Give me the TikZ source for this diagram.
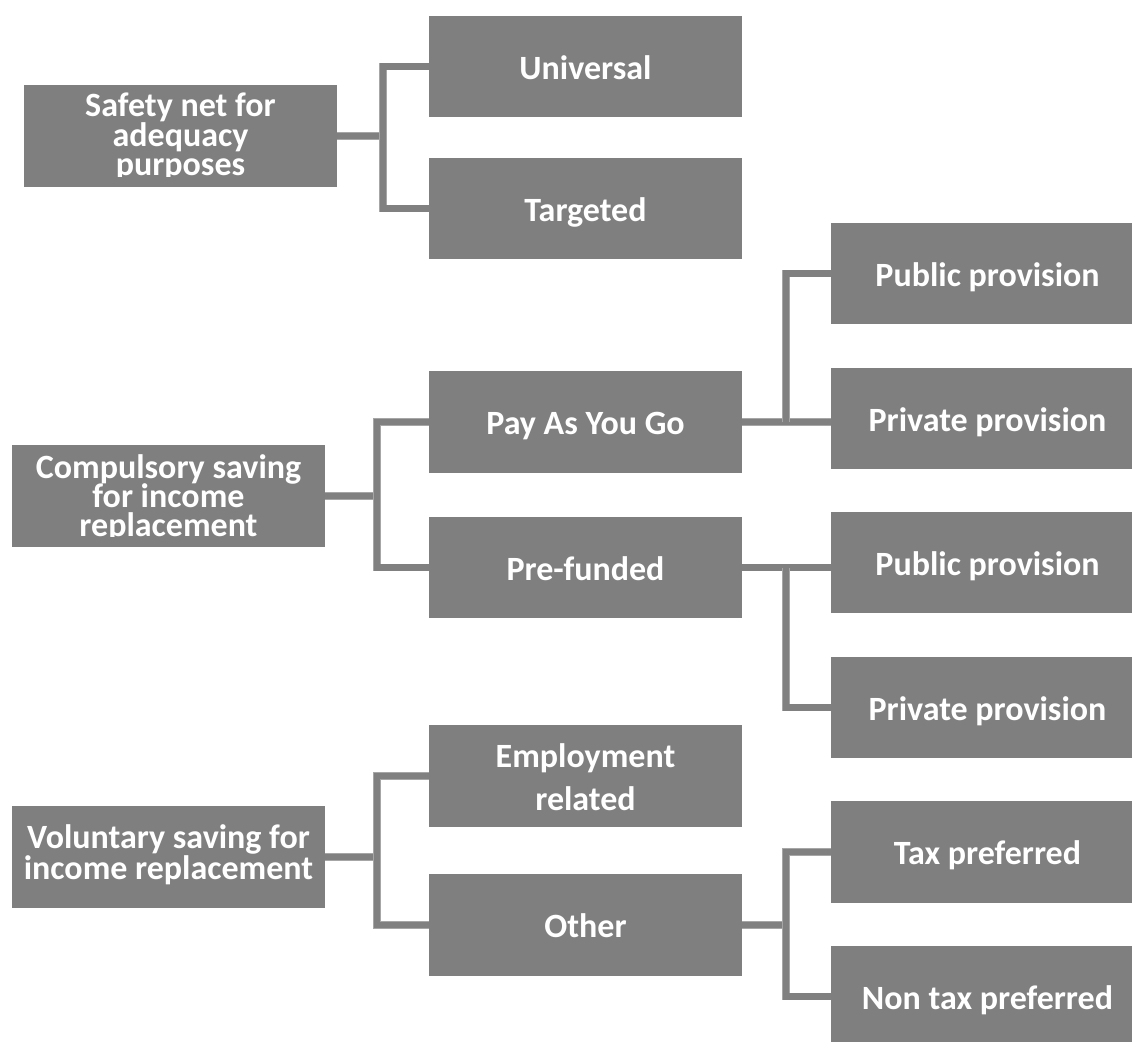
\documentclass[tikz,border=0pt]{standalone}
\usepackage{fontspec}
\newfontfamily\boxfont{Carlito}
\definecolor{boxgray}{HTML}{7F7F7F}
\definecolor{linegray}{HTML}{808080}
\definecolor{edgegray}{HTML}{A6A6A6}
\newcommand\lbl[2]{\vtop{\baselineskip=#1\lineskiplimit=-\maxdimen\halign{\hfil##\hfil\cr#2\crcr}}}
\tikzset{
 box/.style={fill=boxgray, minimum width=234.75pt, minimum height=76.125pt, inner sep=0pt, outer sep=0pt},
 lbltext/.style={text=white, inner sep=0pt, anchor=base, font={\boxfont\bfseries\fontsize{25.5pt}{28pt}\selectfont}},
 txt/.style n args={3}{path picture={
   \clip ([yshift=-3.75pt]path picture bounding box.north west) rectangle ([yshift=7.5pt]path picture bounding box.south east);
   \node[lbltext] at ([yshift=#1]path picture bounding box.center) {\lbl{#2}{#3}};}},
 conn/.style={draw=linegray, line width=4.6pt, preaction={draw=edgegray, line width=5.4pt}}
}
\begin{document}
\begin{tikzpicture}[x=0.75pt,y=-0.75pt]
\useasboundingbox (0,0) rectangle (1132,1042);
\clip (0,0) rectangle (1132,1042);
% boxes
\node[box, txt={14.5pt}{22.1pt}{Safety net for\cr adequacy\cr purposes}] (s) at (180.5,136) {};
\node[box, txt={-9.375pt}{28pt}{Universal}] (u) at (585.5,66.5) {};
\node[box, txt={-9.375pt}{28pt}{Targeted}] (t) at (585.5,208.5) {};
\node[box, txt={13.3pt}{21.75pt}{Compulsory saving\cr for income\cr replacement}] (c) at (168.5,496) {};
\node[box, txt={-9.375pt}{28pt}{Pay As You Go}] (payg) at (585.5,422) {};
\node[box, txt={-9.375pt}{28pt}{Pre-funded}] (pf) at (585.5,567.5) {};
\node[box, txt={-9.375pt}{28pt}{Public provision}] (pub1) at (987.5,273.5) {};
\node[box, txt={-9.375pt}{28pt}{Private provision}] (pri1) at (987.5,418.5) {};
\node[box, txt={-9.375pt}{28pt}{Public provision}] (pub2) at (987.5,562.5) {};
\node[box, txt={-9.375pt}{28pt}{Private provision}] (pri2) at (987.5,707.5) {};
\node[box, txt={6.5pt}{23pt}{Voluntary saving for\cr income replacement}] (v) at (168.5,857) {};
\node[box, txt={6.2pt}{31.7pt}{Employment\cr related}] (emp) at (585.5,776) {};
\node[box, txt={-9.375pt}{28pt}{Other}] (oth) at (585.5,925) {};
\node[box, txt={-9.375pt}{28pt}{Tax preferred}] (tax) at (987.5,852) {};
\node[box, txt={-9.375pt}{28pt}{Non tax preferred}] (ntax) at (987.5,996.5) {};
% junctions
\coordinate (j1) at (383,136);
\coordinate (j2) at (377,496);
\coordinate (j3) at (786,422);
\coordinate (j4) at (786,567.5);
\coordinate (j5) at (377,857);
\coordinate (j6) at (786,925);
% connectors
\draw[conn] (s.east) -- (j1);
\draw[conn] (u.west) -| (j1) |- (t.west);
\draw[conn] (c.east) -- (j2);
\draw[conn] (payg.west) -| (j2) |- (pf.west);
\draw[conn] (payg.east) -- (j3 -| pri1.west);
\draw[conn] (pub1.west) -| (j3);
\draw[conn] (pf.east) -- (j4 -| pub2.west);
\draw[conn] (j4) |- (pri2.west);
\draw[conn] (v.east) -- (j5);
\draw[conn] (emp.west) -| (j5) |- (oth.west);
\draw[conn] (oth.east) -- (j6);
\draw[conn] (tax.west) -| (j6) |- (ntax.west);
\end{tikzpicture}
\end{document}
